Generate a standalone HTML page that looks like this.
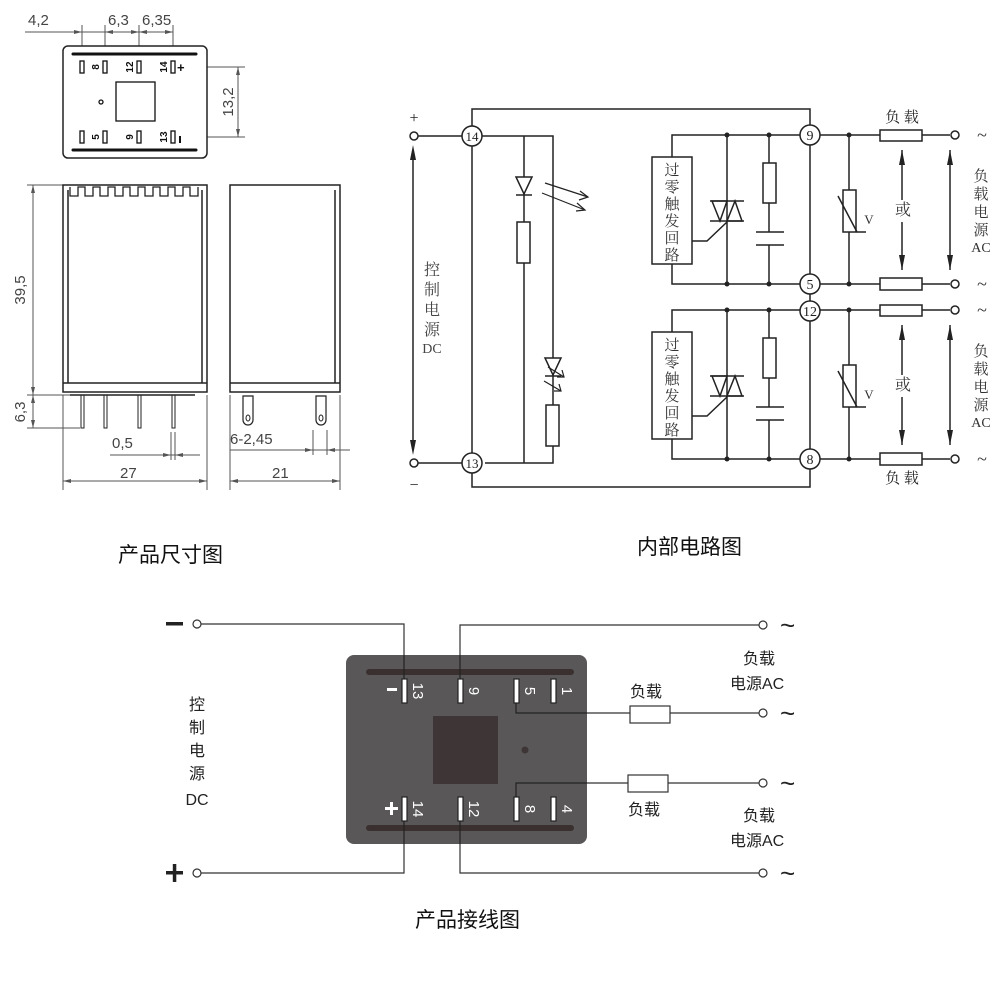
<!DOCTYPE html>
<html><head><meta charset="utf-8"><style>
html,body{margin:0;padding:0;background:#fff}
svg{display:block}
text{font-family:"Liberation Sans","Noto Sans CJK SC",sans-serif}
.s text, text.s{font-family:"Liberation Serif","Noto Serif CJK SC",serif}
</style></head><body>
<svg width="1000" height="1003" viewBox="0 0 1000 1003" xmlns="http://www.w3.org/2000/svg">
<g stroke="#555" fill="none" stroke-width="1">
<line x1="25" y1="32" x2="173" y2="32"/>
<line x1="82" y1="25" x2="82" y2="60"/><line x1="105" y1="25" x2="105" y2="60"/>
<line x1="139" y1="25" x2="139" y2="60"/><line x1="173" y1="25" x2="173" y2="60"/>
<line x1="185" y1="67" x2="245" y2="67"/><line x1="185" y1="137" x2="245" y2="137"/>
<line x1="238" y1="67" x2="238" y2="137"/>
<line x1="33" y1="185" x2="33" y2="428"/>
<line x1="27" y1="185" x2="63" y2="185"/><line x1="27" y1="395" x2="70" y2="395"/><line x1="27" y1="428" x2="80" y2="428"/>
<line x1="63" y1="395" x2="63" y2="490"/><line x1="207" y1="395" x2="207" y2="490"/>
<line x1="63" y1="481" x2="207" y2="481"/>
<line x1="110" y1="455" x2="200" y2="455"/><line x1="171" y1="432" x2="171" y2="460"/><line x1="175" y1="432" x2="175" y2="460"/>
<line x1="230" y1="395" x2="230" y2="490"/><line x1="340" y1="395" x2="340" y2="490"/>
<line x1="230" y1="481" x2="340" y2="481"/>
<line x1="230" y1="450" x2="350" y2="450"/><line x1="313" y1="430" x2="313" y2="455"/><line x1="327" y1="430" x2="327" y2="455"/>
</g>
<g fill="#555">
<polygon points="82,32 74,30 74,34"/><polygon points="105,32 113,30 113,34"/><polygon points="139,32 131,30 131,34"/><polygon points="139,32 147,30 147,34"/><polygon points="173,32 165,30 165,34"/>
<polygon points="238,67 236,75 240,75"/><polygon points="238,137 236,129 240,129"/>
<polygon points="33,185 31,193 35,193"/><polygon points="33,395 31,387 35,387"/><polygon points="33,395 31,403 35,403"/><polygon points="33,428 31,420 35,420"/>
<polygon points="63,481 71,479 71,483"/><polygon points="207,481 199,479 199,483"/>
<polygon points="230,481 238,479 238,483"/><polygon points="340,481 332,479 332,483"/>
<polygon points="171,455 163,453 163,457"/><polygon points="175,455 183,453 183,457"/>
<polygon points="313,450 305,448 305,452"/><polygon points="327,450 335,448 335,452"/>
</g>
<g fill="#444" font-size="15">
<text x="28" y="25">4,2</text><text x="108" y="25">6,3</text><text x="142" y="25">6,35</text>
<text transform="translate(233,102) rotate(-90)" text-anchor="middle">13,2</text>
<text transform="translate(25,290) rotate(-90)" text-anchor="middle">39,5</text>
<text transform="translate(25,412) rotate(-90)" text-anchor="middle">6,3</text>
<text x="112" y="448">0,5</text><text x="230" y="444">6-2,45</text>
<text x="120" y="478">27</text><text x="272" y="478">21</text>
</g>
<rect x="63" y="46" width="144" height="112" rx="5" fill="#fff" stroke="#222" stroke-width="1.5"/>
<line x1="73" y1="54" x2="196" y2="54" stroke="#111" stroke-width="3" stroke-linecap="round"/>
<line x1="73" y1="150" x2="196" y2="150" stroke="#111" stroke-width="3" stroke-linecap="round"/>
<g fill="#fff" stroke="#111" stroke-width="1.3">
<rect x="80" y="61" width="4" height="12"/><rect x="103" y="61" width="4" height="12"/><rect x="137" y="61" width="4" height="12"/><rect x="171" y="61" width="4" height="12"/>
<rect x="80" y="131" width="4" height="12"/><rect x="103" y="131" width="4" height="12"/><rect x="137" y="131" width="4" height="12"/><rect x="171" y="131" width="4" height="12"/>
<rect x="116" y="82" width="39" height="39"/><circle cx="101" cy="102" r="2"/>
</g>
<g font-size="10" font-weight="bold" fill="#111">
<text transform="translate(99,67) rotate(-90)" text-anchor="middle">8</text>
<text transform="translate(133,67) rotate(-90)" text-anchor="middle">12</text>
<text transform="translate(167,67) rotate(-90)" text-anchor="middle">14</text>
<text transform="translate(99,137) rotate(-90)" text-anchor="middle">5</text>
<text transform="translate(133,137) rotate(-90)" text-anchor="middle">9</text>
<text transform="translate(167,137) rotate(-90)" text-anchor="middle">13</text>
<text x="177" y="72" font-size="13">+</text><rect x="179" y="136" width="2" height="7"/>
</g>
<g stroke="#222" fill="none" stroke-width="1.5">
<rect x="63" y="185" width="144" height="207"/>
<line x1="63" y1="383" x2="207" y2="383"/><line x1="68" y1="190" x2="68" y2="383"/><line x1="202" y1="190" x2="202" y2="383"/>
<polyline points="70,187 70,196 78,196 78,187 85,187 85,196 93,196 93,187 100,187 100,196 108,196 108,187 115,187 115,196 123,196 123,187 130,187 130,196 138,196 138,187 145,187 145,196 153,196 153,187 160,187 160,196 168,196 168,187 175,187 175,196 183,196 183,187 190,187 190,196 198,196 198,187" stroke-width="1.3"/>
<line x1="70" y1="395" x2="195" y2="395"/>
<rect x="81" y="395" width="3" height="33" stroke-width="1"/><rect x="104" y="395" width="3" height="33" stroke-width="1"/><rect x="138" y="395" width="3" height="33" stroke-width="1"/><rect x="172" y="395" width="3" height="33" stroke-width="1"/>
<rect x="230" y="185" width="110" height="207"/>
<line x1="230" y1="383" x2="340" y2="383"/><line x1="335" y1="190" x2="335" y2="383"/>
<path d="M243,396 h10 v24 a5,5 0 0 1 -10,0 z" stroke-width="1.2"/>
<path d="M316,396 h10 v24 a5,5 0 0 1 -10,0 z" stroke-width="1.2"/>
<ellipse cx="248" cy="418" rx="2" ry="3" stroke-width="1"/><ellipse cx="321" cy="418" rx="2" ry="3" stroke-width="1"/>
</g>
<g font-size="21" fill="#111">
<text x="118" y="562">产品尺寸图</text>
<text x="637" y="554">内部电路图</text>
<text x="415" y="927">产品接线图</text>
</g>
<g stroke="#222" fill="none" stroke-width="1.5">
<line x1="418" y1="136" x2="462" y2="136"/><line x1="418" y1="463" x2="462" y2="463"/>
<polyline points="472,126 472,109 810,109 810,125"/>
<polyline points="472,473 472,487 810,487 810,469"/>
<line x1="472" y1="146" x2="472" y2="453"/>
<polyline points="482,136 553,136 553,463 485,463"/>
<line x1="524" y1="136" x2="524" y2="463"/>
<line x1="810" y1="145" x2="810" y2="274"/><line x1="810" y1="294" x2="810" y2="301"/><line x1="810" y1="321" x2="810" y2="449"/>
<line x1="413" y1="150" x2="413" y2="450"/>
<polygon points="516,177 532,177 524,194" fill="#fff"/><line x1="516" y1="195" x2="532" y2="195"/>
<rect x="517" y="222" width="13" height="41" fill="#fff"/>
<polygon points="545,358 561,358 553,375" fill="#fff"/><line x1="545" y1="376" x2="561" y2="376"/>
<rect x="546" y="405" width="13" height="41" fill="#fff"/>
<g stroke-width="1.2">
<line x1="545" y1="183" x2="588" y2="197"/><line x1="542" y1="193" x2="585" y2="210"/>
<polyline points="580,191 588,197 579,200"/><polyline points="577,203 585,210 576,211"/>
<line x1="548" y1="367" x2="564" y2="377"/><line x1="544" y1="381" x2="561" y2="391"/>
<polyline points="557,377 564,377 562,370"/><polyline points="554,391 561,391 559,384"/>
</g>
</g>
<g fill="#222">
<polygon points="413,145 410,160 416,160"/><polygon points="413,455 410,440 416,440"/>
</g>
<g fill="#fff" stroke="#222" stroke-width="1.5">
<circle cx="414" cy="136" r="4"/><circle cx="414" cy="463" r="4"/>
<circle cx="472" cy="136" r="10"/><circle cx="472" cy="463" r="10"/>
</g>
<g class="s" font-size="13" fill="#222" text-anchor="middle">
<text x="472" y="141">14</text><text x="472" y="468">13</text>
<text x="414" y="123" font-size="16">+</text><text x="414" y="490" font-size="16">−</text>
</g>
<g class="s" font-size="16" fill="#444" text-anchor="middle">
<text x="432" y="275">控</text><text x="432" y="295">制</text><text x="432" y="315">电</text><text x="432" y="335">源</text><text x="432" y="353" font-size="14">DC</text>
</g>
<g id="blk">
<g stroke="#222" fill="none" stroke-width="1.5">
<polyline points="800,135 672,135 672,157"/>
<polyline points="800,284 672,284 672,264"/>
<rect x="652" y="157" width="40" height="107" fill="#fff"/>
<line x1="727" y1="135" x2="727" y2="284"/>
<line x1="710" y1="201" x2="744" y2="201"/><line x1="710" y1="221" x2="744" y2="221"/>
<polygon points="712,201 727,201 720,221"/><polygon points="727,221 742,221 735,201"/>
<polyline points="692,241 707,241 727,222"/>
<line x1="769" y1="135" x2="769" y2="232"/><line x1="769" y1="245" x2="769" y2="284"/>
<rect x="763" y="163" width="13" height="40" fill="#fff"/>
<line x1="756" y1="232" x2="784" y2="232"/><line x1="756" y1="245" x2="784" y2="245"/>
<line x1="820" y1="135" x2="950" y2="135"/><line x1="820" y1="284" x2="950" y2="284"/>
<line x1="849" y1="135" x2="849" y2="284"/>
<rect x="843" y="190" width="13" height="42" fill="#fff"/>
<polyline points="838,196 857,232 866,232"/>
<rect x="880" y="130" width="42" height="11" fill="#fff"/>
<rect x="880" y="278" width="42" height="12" fill="#fff"/>
<line x1="902" y1="150" x2="902" y2="200"/><line x1="902" y1="222" x2="902" y2="270"/>
<line x1="950" y1="150" x2="950" y2="270"/>
</g>
<g fill="#222">
<circle cx="727" cy="135" r="2.5"/><circle cx="769" cy="135" r="2.5"/><circle cx="727" cy="284" r="2.5"/><circle cx="769" cy="284" r="2.5"/>
<circle cx="849" cy="135" r="2.5"/><circle cx="849" cy="284" r="2.5"/>
<polygon points="902,150 899,165 905,165"/><polygon points="902,270 899,255 905,255"/>
<polygon points="950,150 947,165 953,165"/><polygon points="950,270 947,255 953,255"/>
</g>
<g fill="#fff" stroke="#222" stroke-width="1.5"><circle cx="955" cy="135" r="4"/><circle cx="955" cy="284" r="4"/></g>
<g class="s" fill="#333" font-size="15" text-anchor="middle">
<text x="672" y="175">过</text><text x="672" y="192">零</text><text x="672" y="209">触</text><text x="672" y="226">发</text><text x="672" y="243">回</text><text x="672" y="260">路</text>
<text x="869" y="224" font-size="13">V</text>
<text x="903" y="215" font-size="16">或</text>
<text x="982" y="141" font-size="18">~</text><text x="982" y="290" font-size="18">~</text>
<text x="981" y="181">负</text><text x="981" y="199">载</text><text x="981" y="217">电</text><text x="981" y="235">源</text><text x="981" y="252" font-size="14">AC</text>
</g>
</g>
<use href="#blk" transform="translate(0,175)"/>
<g fill="#fff" stroke="#222" stroke-width="1.5">
<circle cx="810" cy="135" r="10"/><circle cx="810" cy="284" r="10"/><circle cx="810" cy="311" r="10"/><circle cx="810" cy="459" r="10"/>
</g>
<g class="s" font-size="14" fill="#222" text-anchor="middle">
<text x="810" y="140">9</text><text x="810" y="289">5</text><text x="810" y="316">12</text><text x="810" y="464">8</text>
<text x="902" y="122" font-size="15">负 载</text><text x="902" y="483" font-size="15">负 载</text>
</g>
<g stroke="#333" fill="none" stroke-width="1.2">
<polyline points="201,624 404,624 404,690"/>
<polyline points="460,690 460,625 759,625"/>
<polyline points="516,700 516,713 630,713"/><line x1="670" y1="713" x2="759" y2="713"/>
<polyline points="516,800 516,783 628,783"/><line x1="668" y1="783" x2="759" y2="783"/>
<polyline points="201,873 404,873 404,810"/>
<polyline points="460,810 460,873 759,873"/>
</g>
<rect x="346" y="655" width="241" height="189" rx="8" fill="#595757"/>
<line x1="369" y1="672" x2="571" y2="672" stroke="#3a3030" stroke-width="6" stroke-linecap="round"/>
<line x1="369" y1="828" x2="571" y2="828" stroke="#3a3030" stroke-width="6" stroke-linecap="round"/>
<rect x="433" y="716" width="65" height="68" fill="#3e3636"/>
<circle cx="525" cy="750" r="3.5" fill="#3e3636"/>
<g fill="#fff" stroke="#222" stroke-width="1.2">
<rect x="402" y="679" width="5" height="24"/><rect x="458" y="679" width="5" height="24"/><rect x="514" y="679" width="5" height="24"/><rect x="551" y="679" width="5" height="24"/>
<rect x="402" y="797" width="5" height="24"/><rect x="458" y="797" width="5" height="24"/><rect x="514" y="797" width="5" height="24"/><rect x="551" y="797" width="5" height="24"/>
</g>
<g stroke="#222" stroke-width="1.2">
<line x1="404" y1="655" x2="404" y2="679"/><line x1="460" y1="655" x2="460" y2="679"/>
<polyline points="516,703 516,713 587,713" fill="none"/><polyline points="516,797 516,783 587,783" fill="none"/>
<line x1="404" y1="821" x2="404" y2="844"/><line x1="460" y1="821" x2="460" y2="844"/>
</g>
<g fill="#fff" font-size="15">
<text transform="translate(413,691) rotate(90)" text-anchor="middle">13</text>
<text transform="translate(469,691) rotate(90)" text-anchor="middle">9</text>
<text transform="translate(525,691) rotate(90)" text-anchor="middle">5</text>
<text transform="translate(562,691) rotate(90)" text-anchor="middle">1</text>
<text transform="translate(413,809) rotate(90)" text-anchor="middle">14</text>
<text transform="translate(469,809) rotate(90)" text-anchor="middle">12</text>
<text transform="translate(525,809) rotate(90)" text-anchor="middle">8</text>
<text transform="translate(562,809) rotate(90)" text-anchor="middle">4</text>
<rect x="387" y="688" width="10" height="3"/>
<rect x="385" y="807" width="13" height="3"/><rect x="390" y="802" width="3" height="13"/>
</g>
<g fill="#fff" stroke="#333" stroke-width="1.2">
<rect x="630" y="706" width="40" height="17"/><rect x="628" y="775" width="40" height="17"/>
<circle cx="197" cy="624" r="4"/><circle cx="197" cy="873" r="4"/>
<circle cx="763" cy="625" r="4"/><circle cx="763" cy="713" r="4"/><circle cx="763" cy="783" r="4"/><circle cx="763" cy="873" r="4"/>
</g>
<g fill="#222">
<rect x="166" y="622" width="17" height="3.5"/>
<rect x="166" y="871" width="17" height="3.5"/><rect x="172.8" y="864" width="3.5" height="18"/>
</g>
<g fill="#222" font-size="16">
<text x="780" y="634" font-size="26">~</text><text x="780" y="722" font-size="26">~</text><text x="780" y="792" font-size="26">~</text><text x="780" y="882" font-size="26">~</text>
<text x="630" y="697">负载</text><text x="628" y="815">负载</text>
<text x="743" y="664">负载</text><text x="730" y="689">电源AC</text>
<text x="743" y="821">负载</text><text x="730" y="846">电源AC</text>
<g text-anchor="middle">
<text x="197" y="710">控</text><text x="197" y="733">制</text><text x="197" y="756">电</text><text x="197" y="779">源</text><text x="197" y="805">DC</text>
</g>
</g>
</svg>
</body></html>
